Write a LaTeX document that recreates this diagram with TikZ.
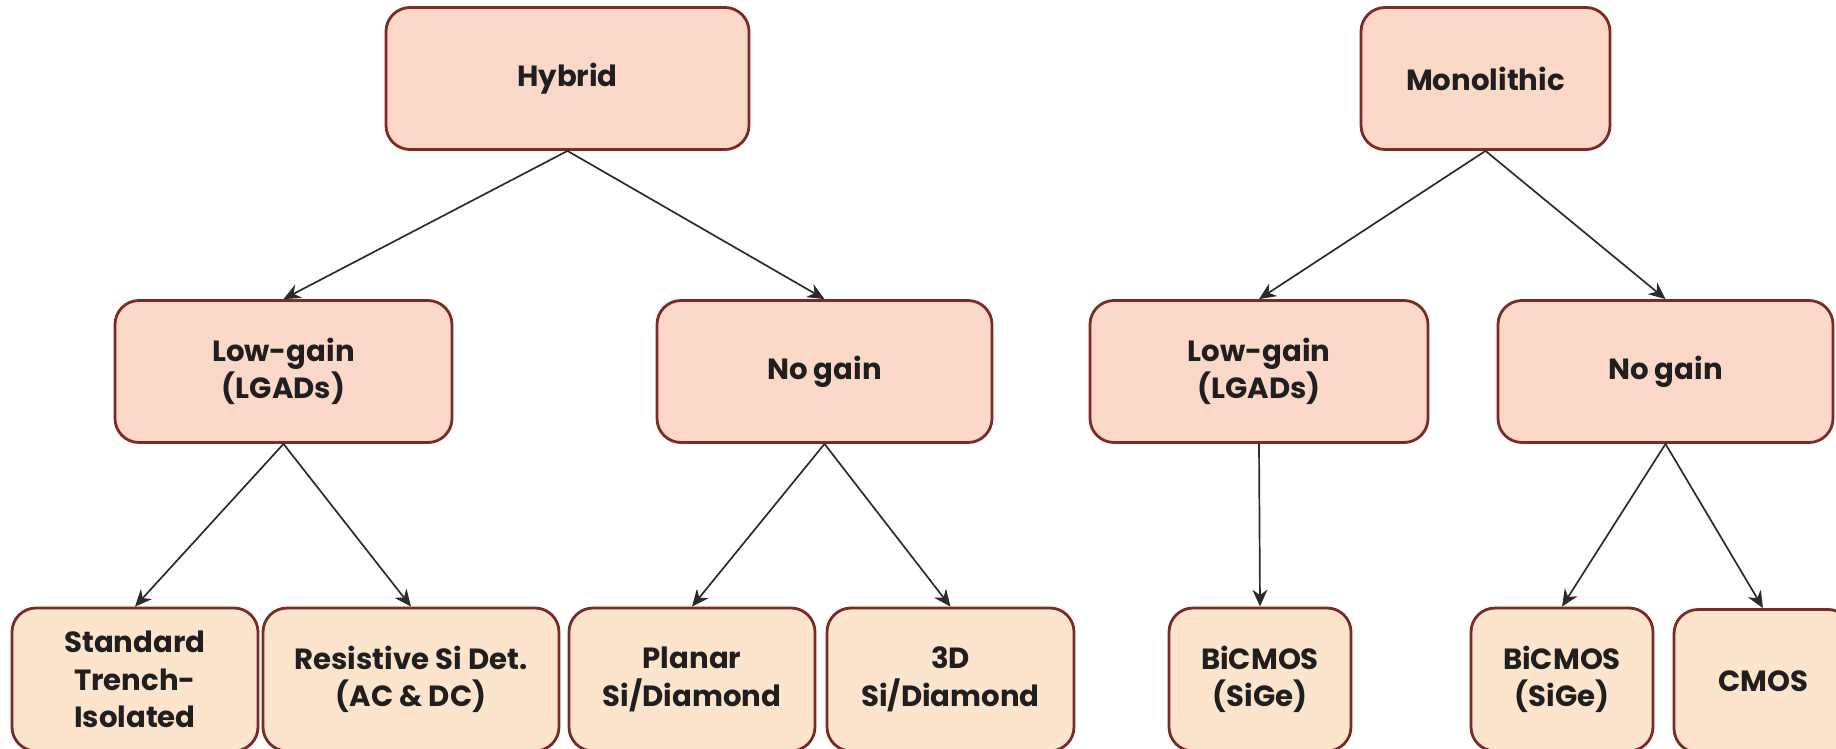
\documentclass[tikz,border=0pt]{standalone}
\usepackage{fontspec}
\setmainfont{Poppins}
\usetikzlibrary{arrows.meta}
\definecolor{boxline}{HTML}{7A2B27}
\definecolor{upperfill}{HTML}{FCD8C8}
\definecolor{lowerfill}{HTML}{FDE4CC}
\definecolor{linkgray}{HTML}{2B2B2B}
\begin{document}
\begin{tikzpicture}[x=0.5pt,y=-0.5pt,
  box/.style={draw=boxline, line width=1.4pt, rounded corners=12pt, align=center,
    inner sep=0pt, font=\bfseries\fontsize{14.6}{18.8}\selectfont, text=black!88},
  upper/.style={box, fill=upperfill, minimum height=71pt},
  lower/.style={box, fill=lowerfill, minimum height=71.5pt},
  link/.style={draw=linkgray, line width=0.85pt, -{Stealth[length=8.5pt,width=7.5pt]}}]
\useasboundingbox (0,0) rectangle (1836,749);

% top level
\node[upper, minimum width=181.5pt] (hyb) at (567.5,78.5) {Hybrid};
\node[upper, minimum width=124.5pt] (mono) at (1485.5,78.5) {Monolithic};

% second level
\node[upper, minimum width=168.5pt] (lgh) at (283.5,371.5) {Low-gain\\(LGADs)};
\node[upper, minimum width=167.5pt] (ngh) at (824.5,371.5) {No gain};
\node[upper, minimum width=169pt]   (lgm) at (1259,371.5) {Low-gain\\(LGADs)};
\node[upper, minimum width=167.5pt] (ngm) at (1665.5,371.5) {No gain};

% third level
\node[lower, minimum width=123pt]   (std) at (135,679.5) {Standard\\Trench-\\Isolated};
\node[lower, minimum width=148pt]   (res) at (411,679.5) {Resistive Si Det.\\(AC \& DC)};
\node[lower, minimum width=123pt]   (pla) at (692,679.5) {Planar\\Si/Diamond};
\node[lower, minimum width=123.5pt] (thd) at (950.5,679.5) {3D\\Si/Diamond};
\node[lower, minimum width=91pt]    (bi1) at (1260,679.5) {BiCMOS\\(SiGe)};
\node[lower, minimum width=91pt]    (bi2) at (1562,679.5) {BiCMOS\\(SiGe)};
\node[lower, minimum width=89pt]    (cmos) at (1763,681) {CMOS};

% connectors
\draw[link] (hyb.south) -- (lgh.north);
\draw[link] (hyb.south) -- (ngh.north);
\draw[link] (mono.south) -- (lgm.north);
\draw[link] (mono.south) -- (ngm.north);
\draw[link] (lgh.south) -- (std.north);
\draw[link] (lgh.south) -- (res.north);
\draw[link] (ngh.south) -- (pla.north);
\draw[link] (ngh.south) -- (thd.north);
\draw[link] (lgm.south) -- (bi1.north);
\draw[link] (ngm.south) -- (bi2.north);
\draw[link] (ngm.south) -- (cmos.north);
\end{tikzpicture}
\end{document}
